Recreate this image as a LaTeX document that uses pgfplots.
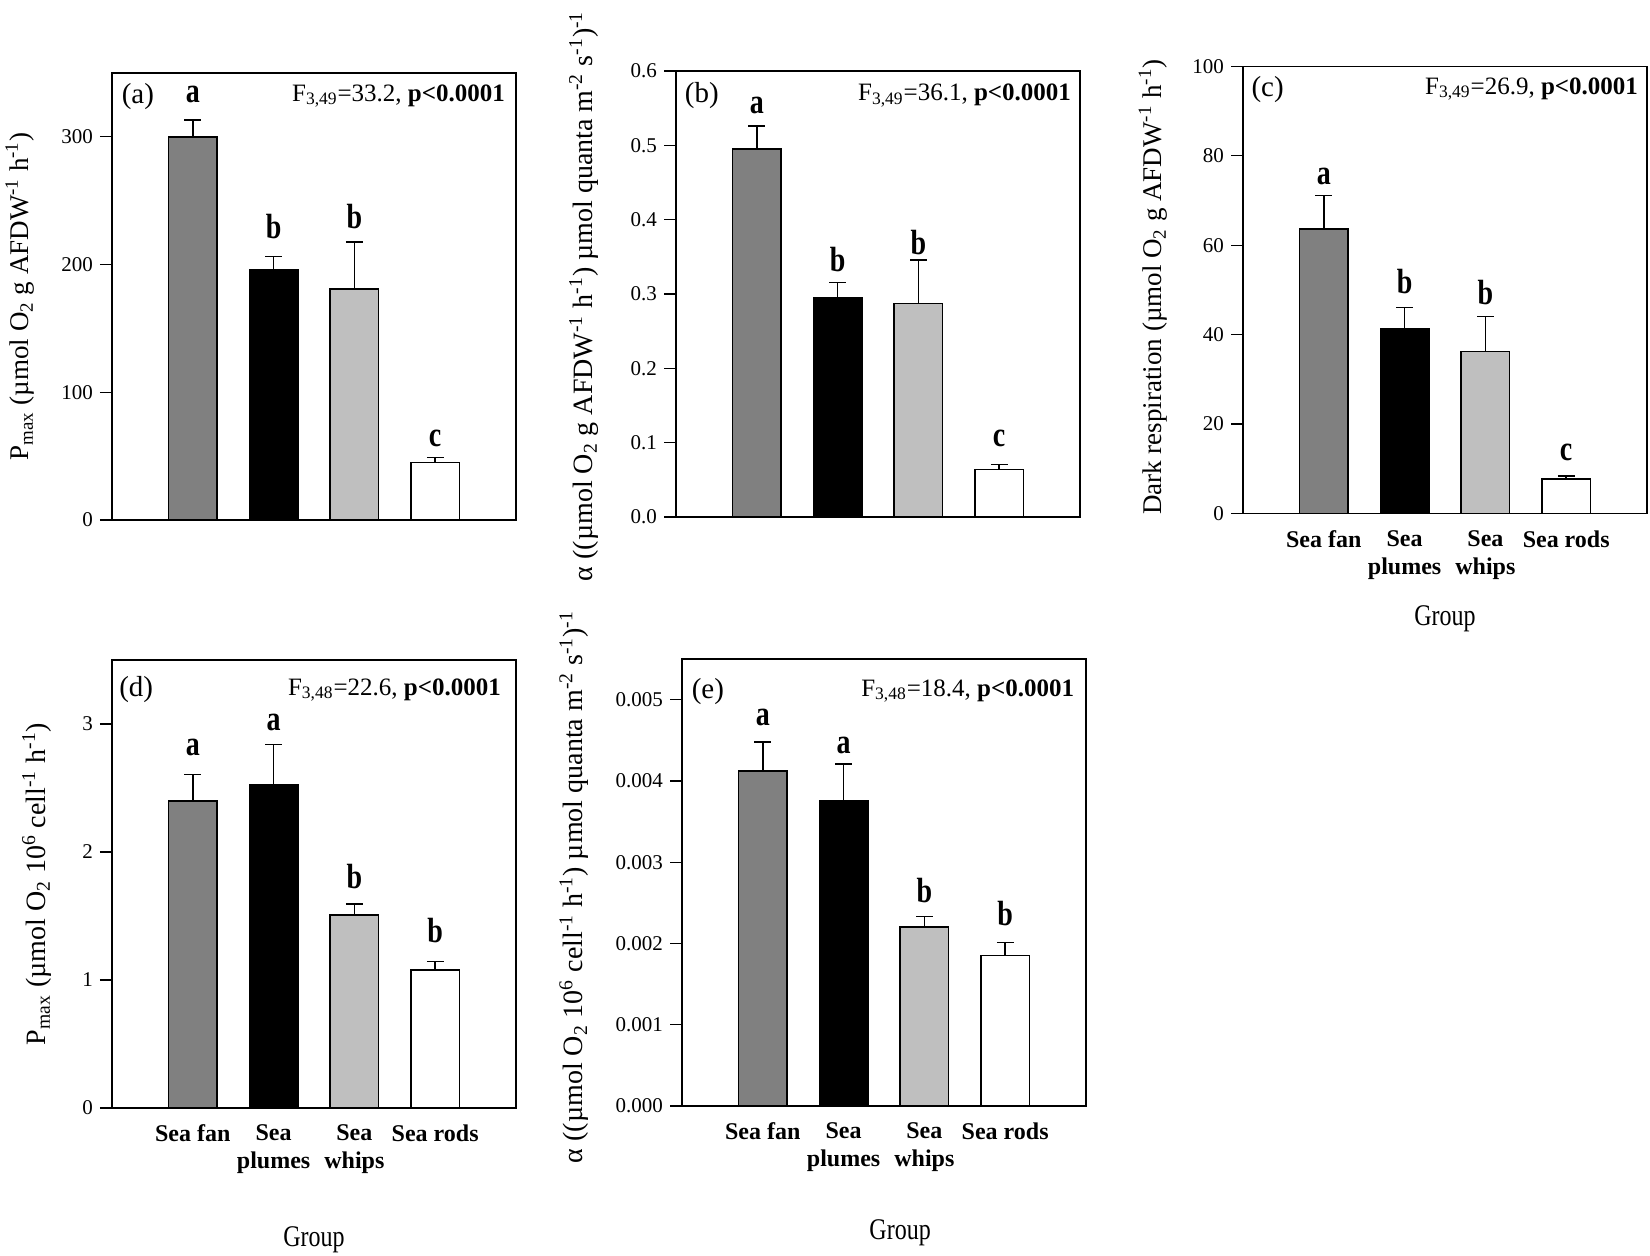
\documentclass[border=0pt]{standalone}
\usepackage{pgfplots}
\pgfplotsset{compat=1.18}
\usepackage{fontspec}
\setmainfont{Liberation Serif}
\newfontfamily\narrow{Liberation Serif}[FakeStretch=0.8]

\definecolor{fanc}{gray}{0.5}
\definecolor{whipc}{gray}{0.75}

\pgfplotsset{
  panel/.style={
    scale only axis, width=202pt, height=223.5pt,
    xmin=0, xmax=5, ymin=0,
    axis line style={line width=0.6pt},
    ytick pos=left, ytick align=outside, xtick align=inside,
    major tick length=6pt,
    tick style={line width=0.6pt, black},
    xtick={1,2,3,4}, xtick style={draw=none},
    scaled y ticks=false,
    /pgf/number format/assume math mode=true,
    tick label style={font=\fontsize{10.5}{12}\selectfont},
    xticklabel style={font=\fontsize{12}{14}\selectfont\bfseries, align=center, yshift=-5pt},
    ylabel style={font=\fontsize{13.5}{16}\selectfont, anchor=center},
    xlabel style={font=\narrow\fontsize{15}{18}\selectfont, anchor=center},
  },
  bb/.style={ybar, bar width=0.6, bar shift=0pt, draw=black, line width=0.75pt,
    error bars/y dir=plus, error bars/y explicit, error bars/error mark=-,
    error bars/error bar style={line width=0.75pt, black},
    error bars/error mark options={rotate=90, mark size=4.2pt, line width=0.75pt, black}},
}
\tikzset{
  sig/.style={font=\narrow\bfseries\fontsize{17.5}{20}\selectfont},
  plab/.style={font=\fontsize{14.5}{17}\selectfont},
  ftxt/.style={anchor=east, font=\fontsize{12.5}{15}\selectfont},
}

% one bar per group: value, upper error
\newcommand{\bars}[8]{%
  \addplot[bb, fill=fanc] coordinates {(1,#1) +- (0,#2)};
  \addplot[bb, fill=black] coordinates {(2,#3) +- (0,#4)};
  \addplot[bb, fill=whipc] coordinates {(3,#5) +- (0,#6)};
  \addplot[bb, fill=white] coordinates {(4,#7) +- (0,#8)};
}

\begin{document}
\begin{tikzpicture}
\useasboundingbox (0,0) rectangle (825pt,628pt);

% (a)
\begin{axis}[panel, at={(56pt,368pt)}, anchor=south west,
  ymax=350, ytick={0,100,200,300}, xticklabels=\empty,
  ylabel={P\textsubscript{max} (µmol O\textsubscript{2} g AFDW\textsuperscript{-1} h\textsuperscript{-1})},
  ylabel style={at={(axis description cs:-0.228,0.5)}}]
\bars{300}{13}{196}{10.5}{181}{36.5}{45}{4}
\node[sig] at (axis cs:1,333) {a};
\node[sig] at (axis cs:2,230) {b};
\node[sig] at (axis cs:3,237.5) {b};
\node[sig] at (axis cs:4,64) {c};
\node[plab] at (rel axis cs:0.064,0.948) {(a)};
\node[ftxt] at (rel axis cs:0.99,0.948) {F\textsubscript{3,49}=33.2, \textbf{p<0.0001}};
\end{axis}

% (b)
\begin{axis}[panel, at={(338pt,369.5pt)}, anchor=south west, height=223pt,
  ymax=0.6, ytick={0,0.1,0.2,0.3,0.4,0.5,0.6}, xticklabels=\empty,
  yticklabel style={/pgf/number format/.cd, fixed, fixed zerofill, precision=1},
  ylabel={α ((µmol O\textsubscript{2} g AFDW\textsuperscript{-1} h\textsuperscript{-1}) µmol quanta m\textsuperscript{-2} s\textsuperscript{-1})\textsuperscript{-1}},
  ylabel style={at={(axis description cs:-0.228,0.495)}, font=\fontsize{14}{16}\selectfont}]
\bars{0.495}{0.031}{0.2955}{0.020}{0.2874}{0.058}{0.0641}{0.0063}
\node[sig] at (axis cs:1,0.554) {a};
\node[sig] at (axis cs:2,0.346) {b};
\node[sig] at (axis cs:3,0.369) {b};
\node[sig] at (axis cs:4,0.106) {c};
\node[plab] at (rel axis cs:0.064,0.945) {(b)};
\node[ftxt] at (rel axis cs:0.995,0.945) {F\textsubscript{3,49}=36.1, \textbf{p<0.0001}};
\end{axis}

% (c)
\begin{axis}[panel, at={(621.5pt,371.3pt)}, anchor=south west,
  ymax=100, ytick={0,20,40,60,80,100},
  xticklabels={Sea fan,{Sea\\plumes},{Sea\\whips},Sea rods},
  xlabel={Group},
  xlabel style={at={(axis description cs:0.5,-0.235)}},
  ylabel={Dark respiration (µmol O\textsubscript{2} g AFDW\textsuperscript{-1} h\textsuperscript{-1})},
  ylabel style={at={(axis description cs:-0.223,0.506)}}]
\bars{63.6}{7.5}{41.25}{4.85}{36.2}{7.9}{7.65}{0.75}
\node[sig] at (axis cs:1,75.4) {a};
\node[sig] at (axis cs:2,51.8) {b};
\node[sig] at (axis cs:3,49.4) {b};
\node[sig] at (axis cs:4,13.6) {c};
\node[plab] at (rel axis cs:0.061,0.949) {(c)};
\node[ftxt] at (rel axis cs:0.995,0.949) {F\textsubscript{3,49}=26.9, \textbf{p<0.0001}};
\end{axis}

% (d)
\begin{axis}[panel, at={(56pt,74pt)}, anchor=south west, height=224pt,
  ymax=3.5, ytick={0,1,2,3},
  xticklabels={Sea fan,{Sea\\plumes},{Sea\\whips},Sea rods},
  xlabel={Group},
  xlabel style={at={(axis description cs:0.5,-0.295)}},
  ylabel={P\textsubscript{max} (µmol O\textsubscript{2} 10\textsuperscript{6} cell\textsuperscript{-1} h\textsuperscript{-1})},
  ylabel style={at={(axis description cs:-0.186,0.5)}, font=\fontsize{14}{16}\selectfont}]
\bars{2.40}{0.206}{2.528}{0.312}{1.509}{0.084}{1.079}{0.066}
\node[sig] at (axis cs:1,2.82) {a};
\node[sig] at (axis cs:2,3.01) {a};
\node[sig] at (axis cs:3,1.81) {b};
\node[sig] at (axis cs:4,1.39) {b};
\node[plab] at (rel axis cs:0.06,0.933) {(d)};
\node[ftxt] at (rel axis cs:0.98,0.933) {F\textsubscript{3,48}=22.6, \textbf{p<0.0001}};
\end{axis}

% (e)
\begin{axis}[panel, at={(341pt,75pt)}, anchor=south west,
  ymax=0.0055, ytick={0,0.001,0.002,0.003,0.004,0.005},
  yticklabel style={/pgf/number format/.cd, fixed, fixed zerofill, precision=3},
  xticklabels={Sea fan,{Sea\\plumes},{Sea\\whips},Sea rods},
  xlabel={Group},
  xlabel style={at={(axis description cs:0.54,-0.284)}},
  ylabel={α ((µmol O\textsubscript{2} 10\textsuperscript{6} cell\textsuperscript{-1} h\textsuperscript{-1}) µmol quanta m\textsuperscript{-2} s\textsuperscript{-1})\textsuperscript{-1}},
  ylabel style={at={(axis description cs:-0.267,0.49)}, font=\fontsize{14}{16}\selectfont}]
\bars{0.00412}{0.00036}{0.00376}{0.00045}{0.00220}{0.00013}{0.00185}{0.00016}
\node[sig] at (axis cs:1,0.00478) {a};
\node[sig] at (axis cs:2,0.00443) {a};
\node[sig] at (axis cs:3,0.00265) {b};
\node[sig] at (axis cs:4,0.00237) {b};
\node[plab] at (rel axis cs:0.064,0.928) {(e)};
\node[ftxt] at (rel axis cs:0.988,0.928) {F\textsubscript{3,48}=18.4, \textbf{p<0.0001}};
\end{axis}
\end{tikzpicture}
\end{document}
